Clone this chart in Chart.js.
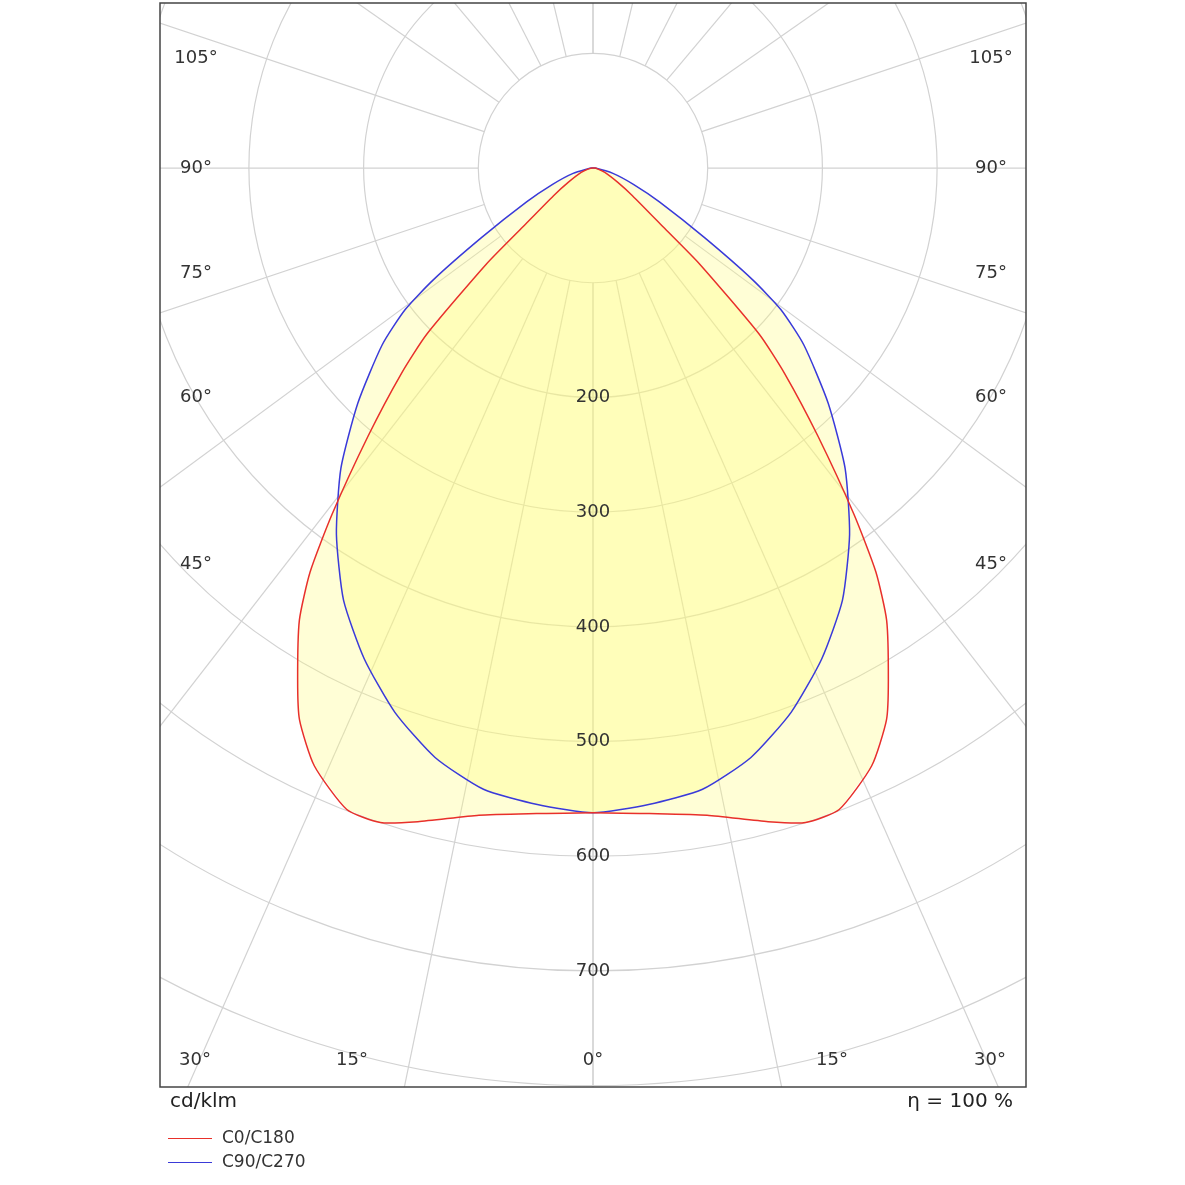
<!DOCTYPE html>
<html>
<head>
<meta charset="utf-8">
<script src="https://cdn.jsdelivr.net/npm/chart.js@4.4.0/dist/chart.umd.min.js"></script>
<style>
  body { margin: 0; background: #fff; font-family: "DejaVu Sans", sans-serif; }
  #wrap { position: relative; width: 1185px; height: 1185px; }
  .txt { position: absolute; color: #222; font-size: 20px; }
  .leg { position: absolute; font-size: 17px; color: #333; }
  .leg span { display: inline-block; width: 44px; height: 0; border-top: 1.5px solid; vertical-align: middle; margin-right: 10px; }
</style>
</head>
<body>
<div id="wrap">
  <canvas id="polar" width="1185" height="1185"></canvas>
  <div class="txt" style="left:170px; top:1088px;">cd/klm</div>
  <div class="txt" style="right:172px; top:1088px;">η = 100 %</div>
  <div class="leg" style="left:168px; top:1127px;"><span style="border-color:#e8302a"></span>C0/C180</div>
  <div class="leg" style="left:168px; top:1151px;"><span style="border-color:#3a3ad8"></span>C90/C270</div>
</div>
<script>
// gamma angles (deg from nadir) and intensities (cd/klm)
const redGamma = [0, 5, 10, 15, 18, 21, 25, 28, 30, 33, 35, 37, 40, 43, 45, 48, 50, 55, 60, 70, 80, 90];
const redValues = [562, 565, 573, 590, 600, 599, 575, 545, 515, 470, 430, 378, 305, 245, 205, 125, 80, 42, 25, 11, 4, 1];
const blueGamma = [0, 5, 10, 15, 20, 25, 30, 35, 40, 45, 50, 53, 55, 58, 63, 68, 75, 90];
const blueValues = [562, 557, 550, 532, 505, 472, 435, 390, 342, 290, 240, 205, 170, 115, 65, 38, 18, 2];

const ringValues = [100, 200, 300, 400, 500, 600, 700, 800, 900, 1000];
const ringLabels = [200, 300, 400, 500, 600, 700];
const spokeAngles = [0, 11.6, 23.8, 37.8, 53.6, 71.5, 90, 108.5, 125, 140, 153, 166.5, 180];
const angleLabels = [
  { t: "105°", y: 58 }, { t: "90°", y: 168 }, { t: "75°", y: 273 },
  { t: "60°", y: 397 }, { t: "45°", y: 564 }
];
const bottomLabels = [
  { t: "30°", x: 195 }, { t: "15°", x: 352 }, { t: "0°", x: 593 },
  { t: "15°", x: 832 }, { t: "30°", x: 990 }
];

function toPoints(gammas, values) {
  const pts = [];
  for (let i = gammas.length - 1; i >= 0; i--) {
    const a = gammas[i] * Math.PI / 180;
    pts.push({ x: -values[i] * Math.sin(a), y: -values[i] * Math.cos(a) });
  }
  for (let i = 1; i < gammas.length; i++) {
    const a = gammas[i] * Math.PI / 180;
    pts.push({ x: values[i] * Math.sin(a), y: -values[i] * Math.cos(a) });
  }
  pts.push(pts[0]);
  return pts;
}

const polarGrid = {
  id: "polarGrid",
  beforeDatasetsDraw(chart) {
    const { ctx, chartArea: ca, scales: { x, y } } = chart;
    const cx = x.getPixelForValue(0), cy = y.getPixelForValue(0);
    const k = x.getPixelForValue(100) - cx;
    ctx.save();
    ctx.beginPath();
    ctx.rect(ca.left, ca.top, ca.width, ca.height);
    ctx.clip();
    ctx.strokeStyle = "#d2d2d2";
    ctx.lineWidth = 1.2;
    ringValues.forEach(r => {
      ctx.beginPath();
      ctx.arc(cx, cy, r / 100 * k, 0, Math.PI * 2);
      ctx.stroke();
    });
    spokeAngles.forEach(a => {
      [-1, 1].forEach(s => {
        const t = a * Math.PI / 180;
        const dx = s * Math.sin(t), dy = Math.cos(t);
        ctx.beginPath();
        ctx.moveTo(cx + dx * k, cy + dy * k);
        ctx.lineTo(cx + dx * 2000, cy + dy * 2000);
        ctx.stroke();
      });
    });
    // fills
    chart.data.datasets.forEach((ds, i) => {
      const meta = chart.getDatasetMeta(i);
      ctx.beginPath();
      meta.data.forEach((p, j) => j ? ctx.lineTo(p.x, p.y) : ctx.moveTo(p.x, p.y));
      ctx.closePath();
      ctx.fillStyle = "rgba(255,252,120,0.3)";
      ctx.fill();
    });
    ctx.restore();
  },
  afterDatasetsDraw(chart) {
    const { ctx, chartArea: ca, scales: { x, y } } = chart;
    const cx = x.getPixelForValue(0);
    ctx.save();
    ctx.font = "18px 'DejaVu Sans'";
    ctx.fillStyle = "#333";
    ctx.textAlign = "center";
    ctx.textBaseline = "middle";
    ringLabels.forEach(r => ctx.fillText(String(r), cx, y.getPixelForValue(-r)));
    angleLabels.forEach(l => {
      ctx.fillText(l.t, 196, l.y);
      ctx.fillText(l.t, 991, l.y);
    });
    bottomLabels.forEach(l => ctx.fillText(l.t, l.x, 1060));
    ctx.strokeStyle = "#444";
    ctx.lineWidth = 1.5;
    ctx.strokeRect(ca.left, ca.top, ca.width, ca.height);
    ctx.restore();
  }
};

new Chart(document.getElementById("polar"), {
  type: "scatter",
  data: {
    datasets: [
      { label: "C0/C180", data: toPoints(redGamma, redValues), showLine: true,
        borderColor: "#e8302a", borderWidth: 1.5, pointRadius: 0, tension: 0.2 },
      { label: "C90/C270", data: toPoints(blueGamma, blueValues), showLine: true,
        borderColor: "#3a3ad8", borderWidth: 1.5, pointRadius: 0, tension: 0.2 }
    ]
  },
  options: {
    responsive: false,
    animation: false,
    layout: { padding: { left: 160, right: 159, top: 3, bottom: 98 } },
    scales: {
      x: { type: "linear", display: false, min: -377.5, max: 377.5 },
      y: { type: "linear", display: false, min: -801.2, max: 143.9 }
    },
    plugins: { legend: { display: false }, tooltip: { enabled: false } }
  },
  plugins: [polarGrid]
});
</script>
</body>
</html>
